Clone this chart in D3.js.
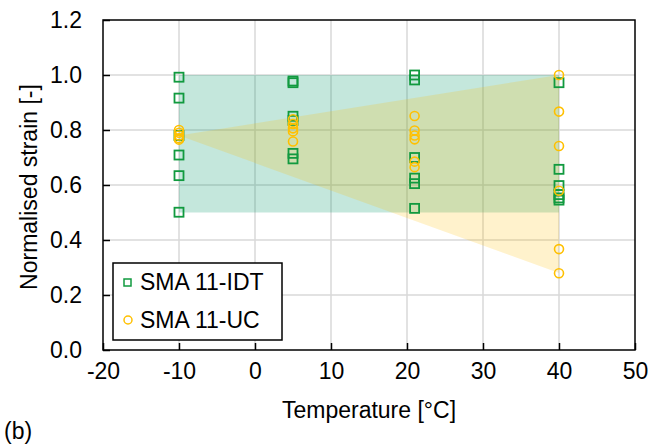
<!DOCTYPE html>
<html>
<head>
<meta charset="utf-8">
<script src="https://cdn.jsdelivr.net/npm/d3@7"></script>
<style>
  body { margin: 0; background: #fff; }
  text { font-family: "Liberation Sans", Arial, sans-serif; fill: #000; }
</style>
</head>
<body>
<div id="main"></div>
<script>
// temperatures the specimens were tested at
const temps = [-10, 5, 21, 40];

// normalised strain, one list per temperature
const idtValues = [
  [0.992, 0.916, 0.78, 0.709, 0.634, 0.501],
  [0.978, 0.972, 0.85, 0.835, 0.715, 0.695],
  [1.0, 0.982, 0.70, 0.625, 0.605, 0.515],
  [0.972, 0.657, 0.598, 0.565, 0.553, 0.545]
];
const ucValues = [
  [0.80, 0.79, 0.78, 0.77, 0.765],
  [0.839, 0.822, 0.806, 0.795, 0.758],
  [0.851, 0.798, 0.78, 0.766, 0.685, 0.665],
  [1.0, 0.867, 0.742, 0.579, 0.367, 0.279]
];

// shaded envelopes
const idtEnvelope = [[-10, 0.5], [-10, 1.0], [40, 1.0], [40, 0.5]];
const ucEnvelope = [[-10, 0.78], [40, 1.0], [40, 0.28]];

const xTicks = [-20, -10, 0, 10, 20, 30, 40, 50];
const yTicks = [0, 0.2, 0.4, 0.6, 0.8, 1.0, 1.2];
const seriesNames = ['SMA 11-IDT', 'SMA 11-UC'];

const w = 665, h = 446;
const pl = 103, pr = 635, pt = 20, pb = 350;
const green = '#119a3f';
const gold = '#ffc000';

const x = d3.scaleLinear().domain([-20, 50]).range([pl, pr]);
const y = d3.scaleLinear().domain([0, 1.2]).range([pb, pt]);

const svg = d3.select('#main').append('svg')
  .attr('width', w).attr('height', h);

// grid
svg.append('g').selectAll('line').data(xTicks.slice(1, -1)).enter().append('line')
  .attr('x1', d => x(d)).attr('x2', d => x(d))
  .attr('y1', pt).attr('y2', pb)
  .attr('stroke', '#d9d9d9').attr('stroke-width', 1.5);
svg.append('g').selectAll('line').data(yTicks.slice(1, -1)).enter().append('line')
  .attr('x1', pl).attr('x2', pr)
  .attr('y1', d => y(d)).attr('y2', d => y(d))
  .attr('stroke', '#d9d9d9').attr('stroke-width', 1.5);

// envelopes
const area = d3.line().x(d => x(d[0])).y(d => y(d[1]));
svg.append('path').attr('d', area(idtEnvelope) + 'Z')
  .attr('fill', 'rgb(0,153,102)').attr('fill-opacity', 0.23);
svg.append('path').attr('d', area(ucEnvelope) + 'Z')
  .attr('fill', 'rgb(255,192,0)').attr('fill-opacity', 0.2);

// points
const idtPts = [], ucPts = [];
temps.forEach((t, i) => {
  idtValues[i].forEach(v => idtPts.push([t, v]));
  ucValues[i].forEach(v => ucPts.push([t, v]));
});

const sq = 9;
svg.append('g').selectAll('rect').data(idtPts).enter().append('rect')
  .attr('x', d => x(d[0]) - sq / 2).attr('y', d => y(d[1]) - sq / 2)
  .attr('width', sq).attr('height', sq)
  .attr('fill', 'none').attr('stroke', green).attr('stroke-width', 1.8);

svg.append('g').selectAll('circle').data(ucPts).enter().append('circle')
  .attr('cx', d => x(d[0])).attr('cy', d => y(d[1])).attr('r', 4.5)
  .attr('fill', 'none').attr('stroke', gold).attr('stroke-width', 1.6);

// frame and axes
svg.append('rect').attr('x', pl).attr('y', pt)
  .attr('width', pr - pl).attr('height', pb - pt)
  .attr('fill', 'none').attr('stroke', '#000').attr('stroke-width', 1.5);

const xAxis = d3.axisBottom(x).tickValues(xTicks).tickSize(-7).tickPadding(13).tickFormat(d => String(d));
const gx = svg.append('g').attr('transform', `translate(0,${pb})`).call(xAxis);
gx.select('.domain').remove();

const yAxis = d3.axisLeft(y).tickValues(yTicks).tickSize(-7).tickPadding(21).tickFormat(d => d.toFixed(1));
const gy = svg.append('g').attr('transform', `translate(${pl},0)`).call(yAxis);
gy.select('.domain').remove();

svg.selectAll('.tick line').attr('stroke', '#000').attr('stroke-width', 1.5);
svg.selectAll('.tick text').attr('font-size', '23px').attr('fill', '#000')
  .style('font-family', '"Liberation Sans", Arial, sans-serif');

// titles
svg.append('text').attr('x', (pl + pr) / 2).attr('y', 418)
  .attr('text-anchor', 'middle').attr('font-size', '23px')
  .text('Temperature [°C]');
svg.append('text').attr('transform', 'translate(37,187) rotate(-90)')
  .attr('text-anchor', 'middle').attr('font-size', '23px')
  .text('Normalised strain [-]');
svg.append('text').attr('x', 4).attr('y', 439).attr('font-size', '23px').text('(b)');

// legend
const lg = svg.append('g');
lg.append('rect').attr('x', 113).attr('y', 263).attr('width', 169).attr('height', 77)
  .attr('fill', '#fff').attr('stroke', '#000').attr('stroke-width', 1.5);
lg.append('rect').attr('x', 124).attr('y', 279).attr('width', 7).attr('height', 7)
  .attr('fill', 'none').attr('stroke', green).attr('stroke-width', 1.5);
lg.append('circle').attr('cx', 128).attr('cy', 320).attr('r', 4)
  .attr('fill', 'none').attr('stroke', gold).attr('stroke-width', 1.5);
lg.append('text').attr('x', 140).attr('y', 290).attr('font-size', '23px').text(seriesNames[0]);
lg.append('text').attr('x', 140).attr('y', 328).attr('font-size', '23px').text(seriesNames[1]);
</script>
</body>
</html>
